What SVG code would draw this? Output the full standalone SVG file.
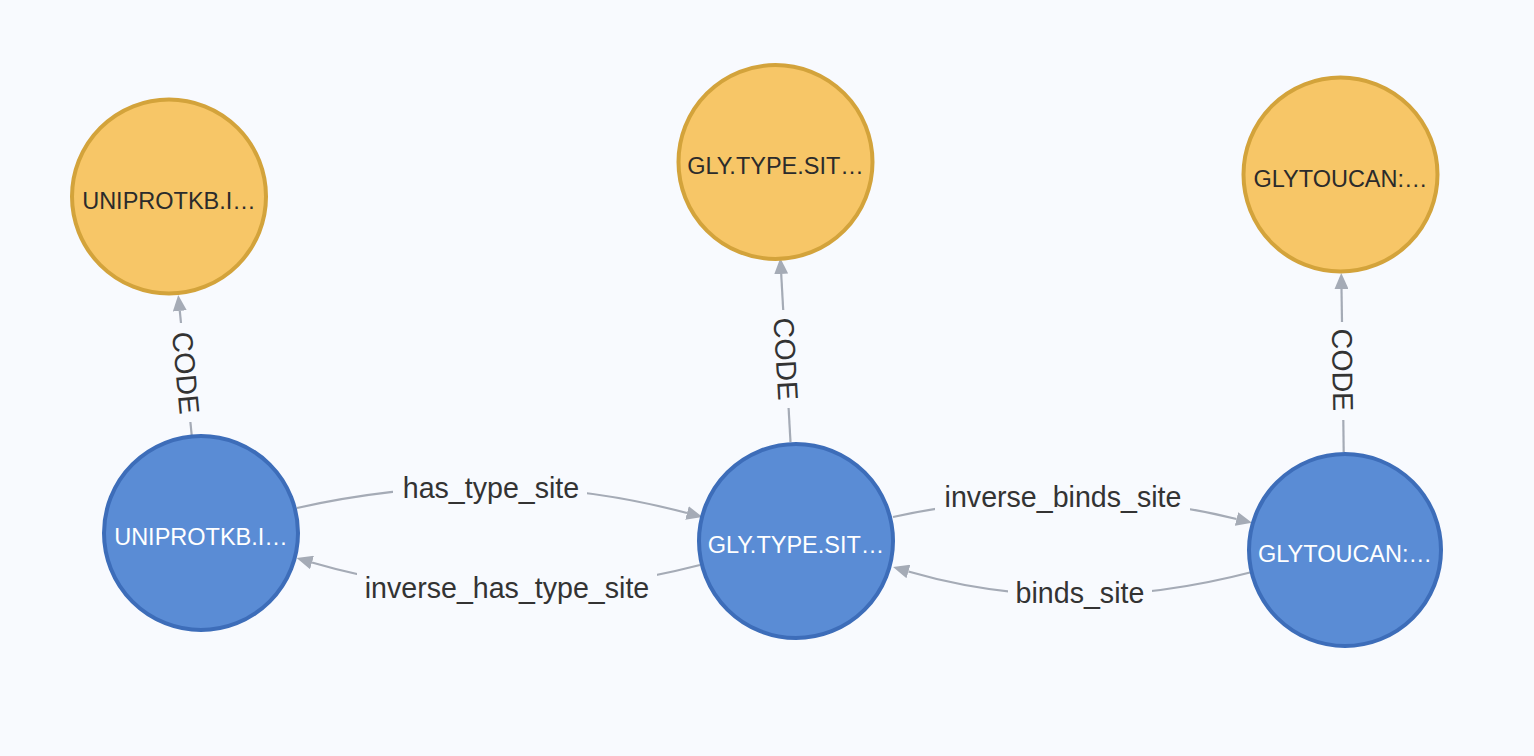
<svg xmlns="http://www.w3.org/2000/svg" width="1534" height="756" viewBox="0 0 1534 756">
<style>
.bg{fill:#F8FAFE}
.code{fill:#F7C667;stroke:#D3A33B;stroke-width:4}
.inst{fill:#5A8CD5;stroke:#3D6DB9;stroke-width:4}
.nl{font-family:"Liberation Sans",Arial,sans-serif;font-size:23.5px;text-anchor:middle}
.nd{fill:#2B2B2B}
.nw{fill:#FFFFFF}
.edge{fill:none;stroke:#A5ABB6;stroke-width:2.2}
.el{font-family:"Liberation Sans",Arial,sans-serif;font-size:28.6px;fill:#333333;text-anchor:middle}
.gap{fill:#F8FAFE}
</style>
<defs>
<marker id="arr" markerUnits="userSpaceOnUse" markerWidth="16" markerHeight="14" viewBox="0 0 16 14" refX="0" refY="7" orient="auto">
<path d="M0,0 L16,7 L0,14 z" fill="#A5ABB6"/>
</marker>
</defs>
<rect class="bg" x="0" y="0" width="1534" height="756"/>
<g id="connectors">
<g id="e-code1">
<line class="edge" x1="191.7" y1="435.4" x2="190.4" y2="422"/>
<line class="edge" x1="181.0" y1="323" x2="179.8" y2="310.9" marker-end="url(#arr)"/>
<text class="el" x="185.8" y="373" dominant-baseline="central" transform="rotate(84.56 185.8 373)">CODE</text>
</g>
<g id="e-code2">
<line class="edge" x1="790.5" y1="442" x2="788.6" y2="408"/>
<line class="edge" x1="783.2" y1="310" x2="781.2" y2="274" marker-end="url(#arr)"/>
<text class="el" x="785.9" y="359" dominant-baseline="central" transform="rotate(86.8 785.9 359)">CODE</text>
</g>
<g id="e-code3">
<line class="edge" x1="1343.7" y1="452" x2="1343.3" y2="420"/>
<line class="edge" x1="1342.0" y1="322" x2="1341.5" y2="289" marker-end="url(#arr)"/>
<text class="el" x="1342.6" y="370" dominant-baseline="central" transform="rotate(89.2 1342.6 370)">CODE</text>
</g>
<g id="e-has_type_site">
<path class="edge" d="M297,508 Q499,463 687,513" marker-end="url(#arr)"/>
<rect class="gap" x="393" y="474" width="194" height="30"/>
<text class="el" x="491" y="498">has_type_site</text>
</g>
<g id="e-inverse_has_type_site">
<path class="edge" d="M700,565 Q498,617 312,562.5" marker-end="url(#arr)"/>
<rect class="gap" x="357" y="566" width="300" height="40"/>
<text class="el" x="507" y="598">inverse_has_type_site</text>
</g>
<g id="e-inverse_binds_site">
<path class="edge" d="M893,517 Q1072,478 1236.5,519" marker-end="url(#arr)"/>
<rect class="gap" x="935" y="485" width="255" height="28"/>
<text class="el" x="1063" y="507">inverse_binds_site</text>
</g>
<g id="e-binds_site">
<path class="edge" d="M1252,572 Q1072,619 908.4,571.5" marker-end="url(#arr)"/>
<rect class="gap" x="1008" y="578" width="144" height="34"/>
<text class="el" x="1080" y="603">binds_site</text>
</g>
</g>
<g id="n-code-uniprot">
<circle class="code" cx="169" cy="196.5" r="97"/>
<text class="nl nd" x="169" y="208.5">UNIPROTKB.I…</text>
</g>
<g id="n-code-gly">
<circle class="code" cx="775.5" cy="162" r="97"/>
<text class="nl nd" x="775.5" y="174">GLY.TYPE.SIT…</text>
</g>
<g id="n-code-glytoucan">
<circle class="code" cx="1340.5" cy="174.5" r="97"/>
<text class="nl nd" x="1340.5" y="186.5">GLYTOUCAN:…</text>
</g>
<g id="n-uniprot">
<circle class="inst" cx="201" cy="533" r="97"/>
<text class="nl nw" x="201" y="545">UNIPROTKB.I…</text>
</g>
<g id="n-gly">
<circle class="inst" cx="796" cy="541" r="97"/>
<text class="nl nw" x="796" y="553">GLY.TYPE.SIT…</text>
</g>
<g id="n-glytoucan">
<circle class="inst" cx="1345" cy="550" r="96"/>
<text class="nl nw" x="1345" y="562">GLYTOUCAN:…</text>
</g>
</svg>
